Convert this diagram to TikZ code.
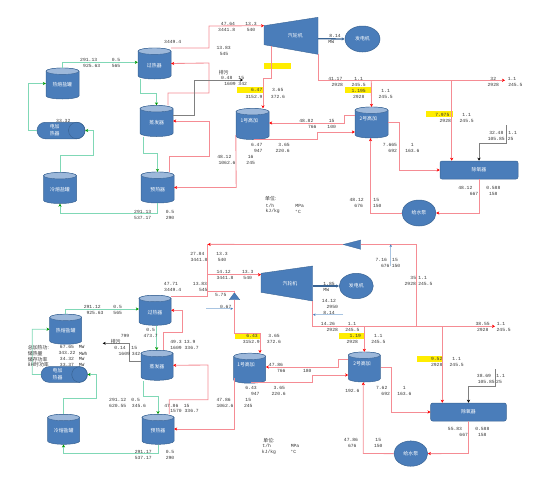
\documentclass[tikz,border=0pt]{standalone}
\usepackage{fontspec}
\newfontfamily\valfont{Liberation Mono}
\newfontfamily\cjk{Noto Sans CJK SC}
\usetikzlibrary{arrows.meta,shapes.geometric,shapes.misc}
\newcounter{tn}
\newcommand{\V}[3]{\stepcounter{tn}\node[val] (t\thetn) at (#1,#2) {#3};}
\newcommand{\W}[3]{\stepcounter{tn}\node[val,fill=yellow!95!orange,inner xsep=0pt,minimum height=6pt,minimum width=#3] (t\thetn) at (#1,#2) {};}
% name, cx, cy, w, h : a cylinder round an invisible rectangular node of that name
\newcommand{\Cyl}[5]{%
 \node[inner sep=0pt,minimum width=#4pt,minimum height=#5pt] (#1) at (#2,#3) {};
 \filldraw[draw=bedge,fill=bfill,line width=.5pt] ({#2-#4/2},{#3-#5/2+3.2}) -- ({#2-#4/2},{#3+#5/2-3.2})
   arc[start angle=180,end angle=360,x radius={#4*0.5pt},y radius=3.2pt]
   -- ({#2+#4/2},{#3-#5/2+3.2})
   arc[start angle=0,end angle=180,x radius={#4*0.5pt},y radius=3.2pt] -- cycle;
 \filldraw[draw=bedge,fill=btop,line width=.4pt] (#2,{#3-#5/2+3.2}) ellipse [x radius={#4*0.5pt},y radius=3.2pt];
}
\definecolor{bfill}{HTML}{4A7DBA}
\definecolor{bedge}{HTML}{3A6494}
\definecolor{btop}{HTML}{9DB8DA}
\definecolor{rl}{HTML}{F58C94}
\definecolor{gl}{HTML}{80D8B6}
\definecolor{lb}{HTML}{A9C5E2}
\tikzset{
 val/.style={inner sep=0pt,font=\valfont\fontsize{4.7}{5}\selectfont,text=black!80},
 zh/.style={inner sep=0pt,font=\cjk\fontsize{4.9}{6}\selectfont,text=black!80},
 wh/.style={inner sep=0pt,font=\cjk\fontsize{4.9}{7}\selectfont,text=white,align=center},
 ell/.style={ellipse,draw=bedge,fill=bfill,line width=.5pt,inner sep=0pt,font=\cjk\fontsize{4.9}{6}\selectfont,text=white},
 redl/.style={draw=rl,line width=.85pt,-{Stealth[length=3pt,width=3.2pt,color=red]}},
 rednt/.style={draw=rl,line width=.85pt},
 greenl/.style={draw=gl,line width=.85pt,-{Stealth[length=3pt,width=3.2pt,color=green!60!black]}},
 greyl/.style={draw=black!50,line width=.6pt,-{Stealth[length=3pt,width=3pt,black]}},
 bluel/.style={draw=bedge,line width=1.3pt,-{Stealth[length=3pt,width=3pt,bedge]}},
 lbl/.style={draw=lb,line width=.8pt,-{Stealth[length=2.5pt,width=2.5pt,bfill]}},
}
\begin{document}
\begin{tikzpicture}[x=1pt,y=-1pt]
\useasboundingbox (0,0) rectangle (554,477);
% ---------- top: yellow marks
\W{277.3}{66}{27pt}
\W{250}{90.3}{27pt}
\W{358}{90.3}{27pt}
\W{439.3}{114.3}{27pt}
% ---------- top: shapes
\Cyl{A1}{154.5}{63.5}{33}{31}
\Cyl{A2}{62.5}{83.5}{33}{31}
\Cyl{A3}{156.5}{121}{33}{31}
\Cyl{A4}{157.5}{187.5}{33}{31}
\Cyl{A5}{60}{188}{33}{31}
\Cyl{A6}{252.5}{124}{33}{31}
\Cyl{A7}{371.5}{122.5}{33}{31}
\node[rounded rectangle,fill=bfill,draw=bedge,line width=.5pt,minimum width=48pt,minimum height=16.5pt,inner sep=0pt] (A8) at (61,130.5) {};
\node[circle,draw=bedge,line width=.5pt,minimum size=16.5pt,inner sep=0pt,anchor=east] (A8c) at (A8.east) {};
\node[rounded corners=2pt,draw=bedge,fill=bfill,line width=.5pt,minimum width=78pt,minimum height=18pt,inner sep=0pt,font=\cjk\fontsize{4.9}{6}\selectfont,text=white] (A9) at (479,170) {除氧器};
\node[ell,minimum width=34pt,minimum height=26pt] (A10) at (419,213) {给水泵};
\node[ell,minimum width=35pt,minimum height=26pt] (A11) at (362.5,39) {发电机};
\fill[bfill,draw=bedge,line width=.4pt] (264,25.7) coordinate (A12a) -- (318,17.3) coordinate (A12b) -- (318,54.3) coordinate (A12c) -- (264,44.7) coordinate (A12d) -- cycle;
\node[wh] (A12) at (295.3,35.7) {汽轮机};
\node[wh] at (154.3,65.7) (A1t) {过热器};
\node[wh] at (62.3,85) (A2t) {热熔盐罐};
\node[wh] at (156.7,122.7) (A3t) {蒸发器};
\node[wh] at (157.7,189.3) (A4t) {预热器};
\node[wh] at (60,189.3) (A5t) {冷熔盐罐};
\node[wh] at (249.3,120.7) (A6t) {1号高加};
\node[wh] at (368.3,119) (A7t) {2号高加};
\node[wh] at (54.7,130) (A8t) {电加\\热器};
% ---------- top: connectors
\draw[greenl] (62,0 |- A2.north) -- (62,62.3) -- (A1.west |- 0,62.3);
\draw[greenl] (140.5,0 |- A1.south) -- (140.5,93) -- (156.5,93) -- (A3.north);
\draw[greenl] (143,0 |- A3.south) -- (143,153.5) -- (157.5,153.5) -- (A4.north);
\draw[greenl] (A5.north) -- (60,155) -- (93,155) -- (93,130.5) -- (A8.east);
\draw[greenl] (A8.west) -- (28,130.5) -- (28,83.5) -- (A2.west);
\draw[greenl] (A4.south) -- (157.5,213) -- (60,213) -- (A5.south);
\draw[redl] (A1.east |- 0,48) -- (209,48) -- (209,26) -- (A12a);
\draw[redl] (271.5,45.5) -- (271.5,78) -- (263,78) -- (263,0 |- A6.north);
\draw[redl] (168,0 |- A3.north) -- (168,93) -- (209,93) -- (209,63) -- (A1.east);
\draw[redl] (169,0 |- A4.north) -- (169,156) -- (209,156) -- (209,121) -- (A3.east);
\draw[redl] (A6.west |- 0,135) -- (236.2,187.5) -- (A4.east |- 0,187.5);
\draw[greyl] (A3.east |- 0,115.5) -- (194.5,115.5) -- (194.5,80) -- (243,80);
\draw[redl] (A7.west |- 0,115) -- (344.7,115) -- (344.7,123) -- (A6.east |- 0,123);
\draw[redl] (254,139.3) -- (317.7,139.3) -- (317.7,132) -- (A7.west |- 0,132);
\coordinate (Aend) at (505,80.3);
\draw[redl] (A12c) -- (318,80.3) -- (Aend);
\draw[redl] (371.3,80.3) -- (A7.north);
\draw[redl] (451.7,80.3) -- (451.7,0 |- A9.north);
\draw[redl] (A7.east) -- (399.3,122.5) -- (399.3,170) -- (A9.west);
\draw[redl] (A9.south) -- (479,213) -- (A10.east);
\draw[redl] (A10.west) -- (370.5,213) -- (370.5,0 |- A7.south);
\coordinate (Afeed) at (506.7,125);
\draw[greyl] (Afeed) -- (506.7,143) -- (479,143) -- (A9.north);
\draw[bluel] (318,38.7) -- (A11.west);
% ---------- top: values
\V{172.7}{42.3}{3449.4}
\V{228}{24}{47.64}\V{251}{24}{13.3}\V{226.7}{30}{3441.8}\V{251}{30}{540}
\V{223.7}{48.3}{13.83}\V{224}{54.3}{545}
\stepcounter{tn}\node[zh] (t\thetn) at (223.7,72.3) {排污};
\V{226.7}{78.3}{0.48}\V{241.3}{78.3}{15}\V{230}{84.3}{1609}\V{242.7}{84.3}{342}
\V{256.7}{90.3}{6.47}\V{277.7}{90.3}{3.65}\V{254}{96.7}{3152.9}\V{278}{96.7}{372.6}
\V{256.7}{145}{6.47}\V{284}{145}{3.65}\V{258.3}{151}{947}\V{282.7}{151}{220.6}
\V{224.3}{157}{48.12}\V{250.7}{157}{16}\V{227}{163}{1062.6}\V{250.7}{163}{245}
\V{88.7}{60}{291.13}\V{116}{60}{0.5}\V{91.7}{66.3}{925.63}\V{116}{66.3}{565}
\V{63.3}{120.7}{33.32}
\V{142.7}{211.7}{291.13}\V{170}{211.7}{0.5}\V{142.7}{217.7}{537.17}\V{170}{217.7}{290}
\V{335.3}{78.7}{41.17}\V{358.7}{78.7}{1.1}\V{337.3}{84.7}{2928}\V{358.7}{84.7}{245.5}
\V{358.7}{90.7}{1.195}\V{385.7}{90.7}{1.1}\V{358.7}{96.7}{2928}\V{385.7}{96.7}{245.5}
\V{493.3}{78.7}{32}\V{512}{78.7}{1.1}\V{493.3}{84.7}{2928}\V{515.3}{84.7}{245.5}
\V{442.3}{114.7}{7.975}\V{466.7}{114.7}{1.1}\V{445.3}{120.7}{2928}\V{466.7}{120.7}{245.5}
\V{496.3}{132.7}{32.48}\V{512.7}{132.7}{1.1}\V{496.3}{139}{105.85}\V{510.7}{139}{25}
\V{306.3}{120.7}{48.82}\V{331.7}{120.7}{15}\V{312.3}{126.7}{766}\V{331.7}{126.7}{100}
\V{390}{145}{7.665}\V{412.3}{145}{1}\V{392.7}{151}{692}\V{412.3}{151}{163.6}
\V{465.3}{187.7}{48.12}\V{493.3}{187.7}{0.588}\V{474}{193.7}{667}\V{493.3}{193.7}{158}
\V{356.7}{199.7}{48.12}\V{376.3}{199.7}{15}\V{358.7}{205.7}{676}\V{377.3}{205.7}{150}
\V{335}{35.7}{8.14}\V{331.3}{42}{MW}
\stepcounter{tn}\node[zh] (t\thetn) at (270.7,199) {单位:};
\V{270}{205.7}{t/h}\V{272.7}{211.7}{kJ/kg}\V{299.7}{205.7}{MPa}\V{298}{211.7}{°C}
% ---------- bottom: yellow marks
\W{247.8}{335.8}{25.7pt}
\W{351.7}{335.5}{26pt}
\W{430.2}{358.5}{25.7pt}
% ---------- bottom: shapes
\Cyl{B1}{155}{310.3}{32}{30}
\Cyl{B2}{65.7}{329.2}{32}{30}
\Cyl{B3}{157}{365.3}{32}{30}
\Cyl{B4}{158}{429.3}{32}{30}
\Cyl{B5}{63.7}{429.3}{32}{30}
\Cyl{B6}{249.7}{368.2}{32}{30}
\Cyl{B7}{364.3}{367}{32}{30}
\node[rounded rectangle,fill=bfill,draw=bedge,line width=.5pt,minimum width=46.3pt,minimum height=15.6pt,inner sep=0pt] (B8) at (64.2,374.5) {};
\node[circle,draw=bedge,line width=.5pt,minimum size=15.6pt,inner sep=0pt,anchor=east] (B8c) at (B8.east) {};
\node[rounded corners=2pt,draw=bedge,fill=bfill,line width=.5pt,minimum width=75.6pt,minimum height=18pt,inner sep=0pt,font=\cjk\fontsize{4.9}{6}\selectfont,text=white] (B9) at (468.5,412) {除氧器};
\node[ell,minimum width=33.7pt,minimum height=25.3pt] (B10) at (410.8,453.6) {给水泵};
\node[ell,minimum width=34pt,minimum height=25.4pt] (B11) at (356.3,286) {发电机};
\fill[bfill,draw=bedge,line width=.4pt] (261,273.3) coordinate (B12a) -- (312.7,266) coordinate (B12b) -- (312.7,301) coordinate (B12c) -- (261,292.3) coordinate (B12d) -- cycle;
\node[wh] (B12) at (290,283.7) {汽轮机};
\fill[bfill,draw=bedge,line width=.3pt] (234.4,292.7) coordinate (B13a) -- (239.7,299.7) coordinate (B13b) -- (229.3,299.7) coordinate (B13c) -- cycle;
\fill[bfill,draw=bedge,line width=.3pt] (343,244.5) coordinate (B14a) -- (360.7,240) coordinate (B14b) -- (360.7,249.3) coordinate (B14c) -- cycle;
\node[wh] at (155,312.5) (B1t) {过热器};
\node[wh] at (65.7,331) (B2t) {热熔盐罐};
\node[wh] at (157,367) (B3t) {蒸发器};
\node[wh] at (158,431) (B4t) {预热器};
\node[wh] at (63.7,431) (B5t) {冷熔盐罐};
\node[wh] at (246,365) (B6t) {1号高加};
\node[wh] at (362,363.5) (B7t) {2号高加};
\node[wh] at (57.5,374.5) (B8t) {电加\\热器};
% ---------- bottom: connectors
\draw[greenl] (65.7,0 |- B2.north) -- (65.7,309) -- (B1.west |- 0,309);
\draw[greenl] (156.7,0 |- B1.south) -- (156.7,0 |- B3.north);
\draw[greenl] (143.7,0 |- B3.south) -- (143.7,396.3) -- (158,396.3) -- (B4.north);
\draw[greenl] (63.5,0 |- B5.north) -- (63.5,398.7) -- (96,398.7) -- (96,374.5) -- (B8.east);
\draw[greenl] (B8.west) -- (32.3,374.5) -- (32.3,329.3) -- (B2.west);
\draw[greenl] (B4.south) -- (158,453.7) -- (63.5,453.7) -- (63.5,0 |- B5.south);
\coordinate (Bj1) at (207.7,296);
\draw[rednt] (B1.east |- 0,296) -- (Bj1);
\draw[redl] (B14a) -- (207.7,244.4);
\draw[rednt] (Bj1) -- (207.7,244.4);
\draw[redl] (207.7,274.7) -- (B12a |- 0,274.7);
\draw[rednt] (207.7,291.3) -- (234.4,291.3) -- (B13a);
\draw[redl] (234.4,299.7) -- (234.4,333) -- (260,333) -- (260,0 |- B6.north);
\draw[rednt] (B14b |- 0,244.4) -- (416.7,244.4) -- (416.7,326.3);
\draw[redl] (163.3,0 |- B3.north) -- (163.3,332) -- (182,332) -- (182,310.3) -- (B1.east);
\draw[redl] (169.3,0 |- B4.north) -- (169.3,399.7) -- (208,399.7) -- (208,365) -- (B3.east);
\draw[redl] (234.2,378) -- (234.2,429) -- (B4.east |- 0,429);
\draw[greyl] (B3.west |- 0,361.3) -- (129.3,361.3) -- (129.3,343.3) -- (102.7,343.3);
\draw[redl] (B7.west |- 0,359.3) -- (338.7,359.3) -- (338.7,367) -- (B6.east |- 0,367);
\draw[redl] (251,382.7) -- (312.3,382.7) -- (312.3,375) -- (B7.west |- 0,375);
\coordinate (Bend) at (495,326.3);
\draw[redl] (B12c) -- (312.7,326.3) -- (Bend);
\draw[redl] (364.3,326.3) -- (B7.north);
\draw[redl] (442.3,326.3) -- (442.3,0 |- B9.north);
\draw[redl] (B7.east) -- (391.3,367) -- (391.3,412) -- (B9.west);
\draw[redl] (B9.south) -- (468.5,453.5) -- (B10.east);
\draw[redl] (B10.west) -- (363.3,453.5) -- (363.3,0 |- B7.south);
\coordinate (Bfeed) at (495.3,369.3);
\draw[greyl] (Bfeed) -- (495.3,386.3) -- (468.5,386.3) -- (B9.north);
\draw[bluel] (312.7,286) -- (B11.west);
\coordinate (Bs1) at (343,314.7);
\draw[lbl] (Bs1) -- (313,314.7);
\coordinate (Bs2) at (206,308.7);
\draw[lbl] (Bs2) -- (233,308.7);
\coordinate (Bs3) at (390.7,266.3);
\draw[lbl] (Bs3) -- (390.7,244.4);
% ---------- bottom: values
\V{197.3}{254.3}{27.84}\V{222}{254.3}{13.3}\V{199}{260.3}{3441.8}\V{222}{260.3}{540}
\V{223.7}{272}{14.12}\V{247.7}{272}{13.3}\V{225}{277.7}{3441.8}\V{247.7}{277.7}{540}
\V{171}{283.7}{47.71}\V{200}{283.7}{13.83}\V{172.7}{289.7}{3449.4}\V{203.3}{289.7}{545}
\V{220.7}{295}{5.75}\V{225.7}{306.7}{0.67}
\V{92.3}{306.7}{291.12}\V{117.7}{306.7}{0.5}\V{95}{312.7}{925.63}\V{117.7}{312.7}{565}
\V{150.7}{330}{0.5}\V{150.7}{336}{473.7}
\V{125}{336}{799}
\stepcounter{tn}\node[zh] (t\thetn) at (115.7,341.3) {排污};
\V{120}{347.7}{0.14}\V{134.3}{347.7}{15}\V{124.3}{353.7}{1609}\V{136}{353.7}{342}
\V{176}{341.7}{49.3}\V{189.7}{341.7}{13.9}\V{176}{347.7}{1609}\V{191.7}{347.7}{336.7}
\stepcounter{tn}\node[zh,anchor=west] (t\thetn) at (27.7,347.3) {总加热功:};
\stepcounter{tn}\node[zh,anchor=west] (t\thetn) at (27.7,353.3) {储热量};
\stepcounter{tn}\node[zh,anchor=west] (t\thetn) at (27.7,359.3) {储存功率};
\stepcounter{tn}\node[zh,anchor=west] (t\thetn) at (27.7,365) {8H时功率};
\V{67}{347.3}{67.65}\V{81.7}{347.3}{MW}
\V{67}{353.3}{343.22}\V{83.3}{353.3}{MWh}
\V{67}{359.3}{34.32}\V{81.7}{359.3}{MW}
\V{67}{365}{33.37}\V{81.7}{365}{MW}
\V{117.7}{399.7}{291.12}\V{135.7}{399.7}{0.5}\V{117.7}{405.7}{620.55}\V{139}{405.7}{345.6}
\V{171.3}{405.7}{47.86}\V{186.7}{405.7}{15}\V{176}{411.3}{1570}\V{191.7}{411.3}{336.7}
\V{223.7}{399.7}{47.86}\V{248.3}{399.7}{15}\V{225}{405.7}{1062.6}\V{248.3}{405.7}{245}
\V{251}{388}{6.43}\V{279.3}{388}{3.65}\V{255.3}{394}{947}\V{278.7}{394}{220.6}
\V{252}{336}{6.43}\V{274}{336}{3.65}\V{251.3}{341.7}{3152.9}\V{274}{341.7}{372.6}
\V{276}{365}{47.86}\V{281.3}{371}{766}\V{307.3}{371}{180}
\V{143.3}{452}{291.17}\V{170}{452}{0.5}\V{143.3}{457.7}{537.17}\V{170}{457.7}{290}
\stepcounter{tn}\node[zh] (t\thetn) at (269,440.3) {单位:};
\V{266.7}{446.3}{t/h}\V{269}{452.3}{kJ/kg}\V{295}{446.3}{MPa}\V{293.3}{452.3}{°C}
\V{381.3}{260.3}{7.16}\V{395}{260.3}{15}\V{385.3}{266.3}{676}\V{396}{266.3}{150}
\V{413.3}{277.7}{35}\V{422.7}{277.7}{1.1}\V{410.3}{283.7}{2928}\V{425.3}{283.7}{245.5}
\V{329}{283.7}{1.85}\V{326.3}{289.7}{MW}
\V{329}{301}{14.12}\V{332.3}{307}{2950}\V{329}{313}{8.14}
\V{328}{324.3}{14.26}\V{352}{324.3}{1.1}\V{332.3}{330}{2928}\V{352.3}{330}{245.5}
\V{355.3}{336}{1.19}\V{378.3}{336}{1.1}\V{352.3}{341.7}{2928}\V{378.3}{341.7}{245.5}
\V{482.7}{324.3}{38.55}\V{501}{324.3}{1.1}\V{482.7}{330}{2928}\V{503.7}{330}{245.5}
\V{436.7}{358.7}{9.52}\V{456.7}{358.7}{1.1}\V{436.7}{364.7}{2928}\V{456.7}{364.7}{245.5}
\V{484}{376.3}{38.69}\V{500.7}{376.3}{1.1}\V{486.3}{382}{105.85}\V{499}{382}{25}
\V{381.7}{387.7}{7.62}\V{404.3}{387.7}{1}\V{385.7}{393.7}{692}\V{404.3}{393.7}{163.6}
\V{352.3}{391}{192.6}
\V{351}{440.3}{47.86}\V{378.3}{440.3}{15}\V{352.3}{446.3}{676}\V{378.3}{446.3}{150}
\V{455}{428.7}{55.83}\V{482.3}{428.7}{0.588}\V{463.7}{434.7}{667}\V{482.3}{434.7}{158}
\end{tikzpicture}
\end{document}
